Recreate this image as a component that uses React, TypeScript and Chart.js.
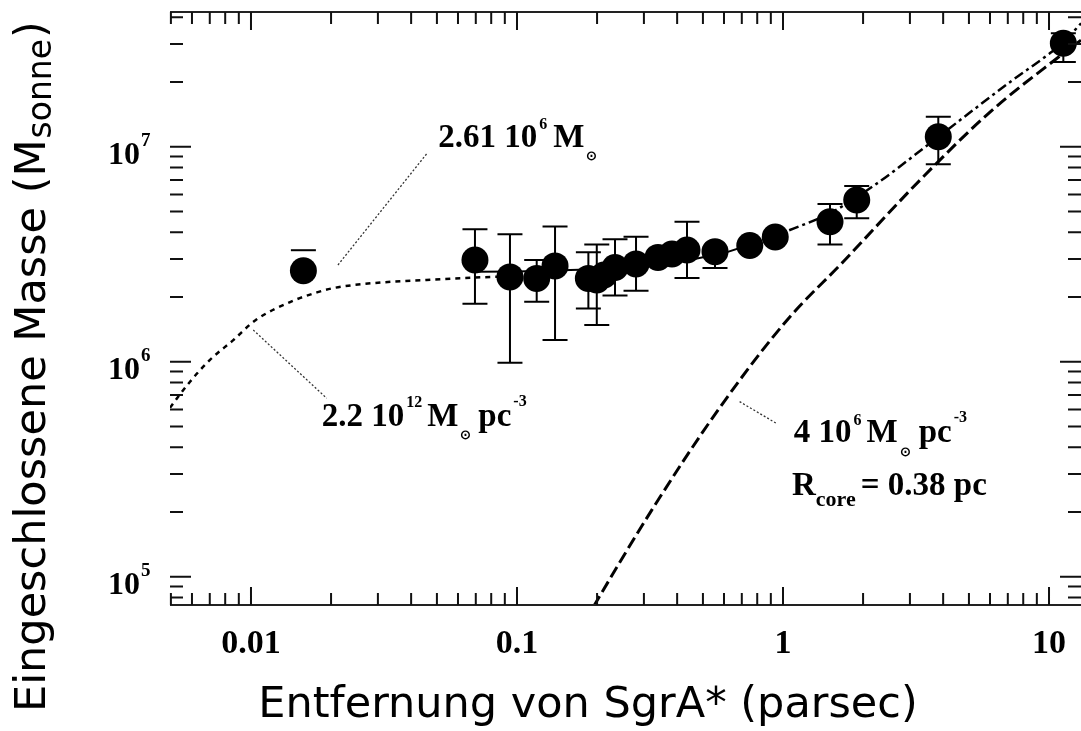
import React, { useEffect, useRef } from 'react';
import { Chart, registerables } from 'chart.js';

Chart.register(...registerables);

// ---------- data ----------
// measured enclosed mass points (distance in pc, mass in solar masses)
const pointX = [0.01574, 0.0695, 0.0941, 0.1186, 0.139, 0.1855, 0.1995, 0.2124, 0.2336, 0.2802, 0.3389, 0.3825, 0.4356, 0.5551, 0.75, 0.935, 1.502, 1.893, 3.835, 11.32];
const pointY = [2.65e6, 2.97e6, 2.48e6, 2.44e6, 2.79e6, 2.44e6, 2.40e6, 2.53e6, 2.74e6, 2.85e6, 3.056e6, 3.169e6, 3.31e6, 3.25e6, 3.47e6, 3.80e6, 4.48e6, 5.65e6, 1.113e7, 3.03e7];
const errUpper = [3.3e6, 4.13e6, 3.92e6, 2.97e6, 4.25e6, 3.23e6, 3.51e6, null, 3.71e6, 3.81e6, null, null, 4.48e6, 3.4e6, null, null, 5.41e6, 6.56e6, 1.379e7, 3.37e7];
const errLower = [null, 1.86e6, 0.99e6, 1.9e6, 1.26e6, 1.77e6, 1.48e6, null, 2.03e6, 2.14e6, null, null, 2.45e6, 2.73e6, null, null, 3.51e6, 4.65e6, 8.28e6, 2.48e7];

// total model (point mass + stellar cluster): solid part and dash-dot part
const totalSolidX = [0.07, 0.1, 0.2, 0.3, 0.45, 0.6, 0.75];
const totalSolidY = [2.62e6, 2.63e6, 2.69e6, 2.79e6, 2.98e6, 3.2e6, 3.5e6];
const totalDashX = [0.75, 1.1, 1.5, 2.2, 3.4, 5, 7.3, 10, 11.3, 13.2];
const totalDashY = [3.5e6, 4.17e6, 4.9e6, 6.6e6, 9.9e6, 1.43e7, 2.04e7, 2.7e7, 3.05e7, 3.75e7];

// stellar cluster model (4 10^6 Msun pc^-3, Rcore = 0.38 pc)
const starX = [0.18, 0.189, 0.321, 0.576, 1.035, 1.681, 3.273, 6.0, 10.81, 13.19];
const starY = [6.2e4, 6.88e4, 2.04e5, 6.07e5, 1.56e6, 2.91e6, 6.99e6, 1.449e7, 2.6e7, 3.13e7];

// dark cluster model (2.2 10^12 Msun pc^-3)
const darkX = [0.0045, 0.00496, 0.0059, 0.00701, 0.00858, 0.0104, 0.0144, 0.0177, 0.0204, 0.0288, 0.0457, 0.0815, 0.1];
const darkY = [5.1e5, 6.1e5, 8.07e5, 1.02e6, 1.26e6, 1.56e6, 1.92e6, 2.1e6, 2.2e6, 2.32e6, 2.40e6, 2.48e6, 2.49e6];

// axes
const xMin = 0.004961;
const xMax = 13.19;
const yMin = 7.386e4;
const yMax = 4.231e7;
const xTickValues = [0.01, 0.1, 1, 10];
const xTickLabels = ['0.01', '0.1', '1', '10'];
const yTickValues = [1e5, 1e6, 1e7];
const yTickExponents = ['5', '6', '7'];

const xTitle = 'Entfernung von SgrA* (parsec)';
const yTitleMain = 'Eingeschlossene Masse (M';
const yTitleSub = 'sonne';
const yTitleEnd = ')';

// annotations: anchor positions in data units, leader lines in data units
const annotX = [0.0506, 0.01844, 1.098, 1.081];
const annotY = [9.97e6, 5.02e5, 4.23e5, 2.40e5];
const annotParts = [
  [
    { t: '2.61 10', s: 33, dy: 0, gap: 0 },
    { t: '6', s: 16, dy: -18, gap: 2 },
    { t: 'M', s: 33, dy: 0, gap: 6 },
    { t: '\u2299', s: 13, dy: 13, gap: 2 },
  ],
  [
    { t: '2.2 10', s: 33, dy: 0, gap: 0 },
    { t: '12', s: 16, dy: -19, gap: 2 },
    { t: 'M', s: 33, dy: 0, gap: 5 },
    { t: '\u2299', s: 13, dy: 13, gap: 2 },
    { t: 'pc', s: 33, dy: 0, gap: 7 },
    { t: '-3', s: 16, dy: -20, gap: 2 },
  ],
  [
    { t: '4 10', s: 33, dy: 0, gap: 0 },
    { t: '6', s: 16, dy: -17, gap: 2 },
    { t: 'M', s: 33, dy: 0, gap: 5 },
    { t: '\u2299', s: 13, dy: 14, gap: 2 },
    { t: 'pc', s: 33, dy: 0, gap: 8 },
    { t: '-3', s: 16, dy: -20, gap: 2 },
  ],
  [
    { t: 'R', s: 33, dy: 0, gap: 0 },
    { t: 'core', s: 22, dy: 11, gap: 0 },
    { t: '= 0.38 pc', s: 33, dy: 0, gap: 5 },
  ],
];
const leaderFromX = [0.0457, 0.0102, 0.687];
const leaderFromY = [9.25e6, 1.404e6, 6.52e5];
const leaderToX = [0.021, 0.01926, 0.9486];
const leaderToY = [2.77e6, 6.76e5, 5.15e5];

const SERIF = '"Liberation Serif", "Times New Roman", serif';
const SANS = '"DejaVu Sans", Verdana, sans-serif';

const pts = (xs: number[], ys: number[]) => xs.map((x, i) => ({ x, y: ys[i] }));

const customPlugin = {
  id: 'massPlot',
  beforeDatasetsDraw(chart: any) {
    const { ctx, scales } = chart;
    const xs = scales.x;
    const ys = scales.y;
    ctx.save();
    ctx.strokeStyle = '#000';
    ctx.lineWidth = 2;
    const cap = 12.5;
    pointX.forEach((xv, i) => {
      const up = errUpper[i];
      const lo = errLower[i];
      if (up == null && lo == null) return;
      const px = xs.getPixelForValue(xv);
      const pc = ys.getPixelForValue(pointY[i]);
      const pu = up != null ? ys.getPixelForValue(up) : pc;
      const pl = lo != null ? ys.getPixelForValue(lo) : pc;
      ctx.beginPath();
      if (up != null && lo != null) {
        ctx.moveTo(px, pl);
        ctx.lineTo(px, pu);
      }
      if (up != null) {
        ctx.moveTo(px - cap, pu);
        ctx.lineTo(px + cap, pu);
      }
      if (lo != null) {
        ctx.moveTo(px - cap, pl);
        ctx.lineTo(px + cap, pl);
      }
      ctx.stroke();
    });
    ctx.restore();
  },
  afterDraw(chart: any) {
    const { ctx, scales, chartArea } = chart;
    const xs = scales.x;
    const ys = scales.y;
    const { left, right, top, bottom } = chartArea;
    ctx.save();
    // frame (top and bottom only)
    ctx.strokeStyle = '#222';
    ctx.lineWidth = 2.2;
    ctx.beginPath();
    ctx.moveTo(left, top);
    ctx.lineTo(right, top);
    ctx.moveTo(left, bottom);
    ctx.lineTo(right, bottom);
    ctx.stroke();

    // ticks
    ctx.lineWidth = 2;
    ctx.strokeStyle = '#111';
    ctx.beginPath();
    for (let e = -3; e <= 1; e++) {
      for (let m = 1; m <= 9; m++) {
        const v = m * Math.pow(10, e);
        if (v < xMin || v > xMax) continue;
        const px = xs.getPixelForValue(v);
        const len = m === 1 ? 18 : 12;
        ctx.moveTo(px, top);
        ctx.lineTo(px, top + len);
        ctx.moveTo(px, bottom);
        ctx.lineTo(px, bottom - len);
      }
    }
    for (let e = 4; e <= 7; e++) {
      for (let m = 1; m <= 9; m++) {
        const v = m * Math.pow(10, e);
        if (v < yMin || v > yMax) continue;
        const py = ys.getPixelForValue(v);
        const len = m === 1 ? 21 : 13;
        ctx.moveTo(left, py);
        ctx.lineTo(left + len, py);
        ctx.moveTo(right, py);
        ctx.lineTo(right - len, py);
      }
    }
    ctx.stroke();

    // x tick labels
    ctx.fillStyle = '#000';
    ctx.font = `bold 34px ${SERIF}`;
    ctx.textAlign = 'center';
    ctx.textBaseline = 'alphabetic';
    xTickValues.forEach((v, i) => {
      ctx.fillText(xTickLabels[i], xs.getPixelForValue(v), bottom + 48);
    });
    // y tick labels 10^n
    yTickValues.forEach((v, i) => {
      const py = ys.getPixelForValue(v);
      ctx.font = `bold 32px ${SERIF}`;
      ctx.textAlign = 'right';
      ctx.fillText('10', 140, py + 17);
      ctx.font = `bold 19px ${SERIF}`;
      ctx.textAlign = 'left';
      ctx.fillText(yTickExponents[i], 141, py - 1);
    });

    // x title
    ctx.font = `43px ${SANS}`;
    ctx.textAlign = 'center';
    ctx.fillText(xTitle, 588, 717);

    // y title with subscript
    ctx.save();
    ctx.translate(45, 712);
    ctx.rotate(-Math.PI / 2);
    ctx.textAlign = 'left';
    ctx.font = `43px ${SANS}`;
    ctx.fillText(yTitleMain, 0, 0);
    let w = ctx.measureText(yTitleMain).width;
    ctx.font = `33px ${SANS}`;
    ctx.fillText(yTitleSub, w + 1, 6);
    w += ctx.measureText(yTitleSub).width + 2;
    ctx.font = `43px ${SANS}`;
    ctx.fillText(yTitleEnd, w, 0);
    ctx.restore();

    // leader lines
    ctx.strokeStyle = '#333';
    ctx.lineWidth = 1.3;
    ctx.setLineDash([2, 2]);
    ctx.beginPath();
    leaderFromX.forEach((xv, i) => {
      ctx.moveTo(xs.getPixelForValue(xv), ys.getPixelForValue(leaderFromY[i]));
      ctx.lineTo(xs.getPixelForValue(leaderToX[i]), ys.getPixelForValue(leaderToY[i]));
    });
    ctx.stroke();
    ctx.setLineDash([]);

    // annotation texts
    ctx.textAlign = 'left';
    annotParts.forEach((parts, i) => {
      let x = xs.getPixelForValue(annotX[i]);
      const y = ys.getPixelForValue(annotY[i]);
      parts.forEach((p) => {
        x += p.gap;
        ctx.font = `bold ${p.s}px ${SERIF}`;
        ctx.fillText(p.t, x, y + p.dy);
        x += ctx.measureText(p.t).width;
      });
    });
    ctx.restore();
  },
};

export default function App() {
  const ref = useRef<HTMLCanvasElement | null>(null);
  useEffect(() => {
    if (!ref.current) return;
    const line = (data: any, dash: number[], width: number, smooth = false) => ({
      type: 'line' as const,
      data,
      showLine: true,
      borderColor: '#000',
      backgroundColor: '#000',
      borderWidth: width,
      borderDash: dash,
      pointRadius: 0,
      tension: 0,
      cubicInterpolationMode: smooth ? ('monotone' as const) : ('default' as const),
      fill: false,
    });
    const chart = new Chart(ref.current, {
      type: 'scatter',
      data: {
        datasets: [
          {
            data: pts(pointX, pointY),
            backgroundColor: '#000',
            borderColor: '#000',
            borderWidth: 0,
            pointRadius: 13.5,
            showLine: false,
          } as any,
          line(pts(totalSolidX, totalSolidY), [], 2),
          line(pts(totalDashX, totalDashY), [10, 4, 3, 4], 2.5, true),
          line(pts(starX, starY), [12, 5], 3, true),
          line(pts(darkX, darkY), [5, 5], 2.5, true),
        ],
      },
      options: {
        animation: false,
        responsive: false,
        maintainAspectRatio: false,
        devicePixelRatio: 1,
        layout: { autoPadding: false, padding: { left: 170, top: 12, right: 0, bottom: 126 } },
        plugins: { legend: { display: false }, tooltip: { enabled: false } },
        scales: {
          x: { type: 'logarithmic', min: xMin, max: xMax, display: false },
          y: { type: 'logarithmic', min: yMin, max: yMax, display: false },
        },
      },
      plugins: [customPlugin],
    } as any);
    return () => chart.destroy();
  }, []);
  return (
    <div style={{ position: 'fixed', left: 0, top: 0, width: 1081, height: 731, background: '#fff' }}>
      <canvas ref={ref} width={1081} height={731} style={{ width: 1081, height: 731, display: 'block' }} />
    </div>
  );
}
